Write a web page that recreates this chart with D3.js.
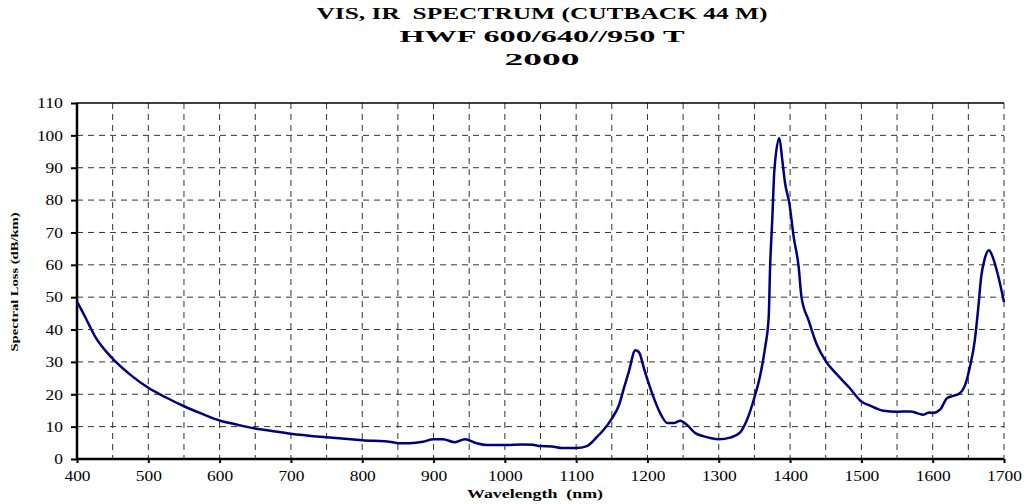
<!DOCTYPE html>
<html>
<head>
<meta charset="utf-8">
<script src="https://cdn.jsdelivr.net/npm/d3@7"></script>
<style>
  body { margin: 0; background: #fff; }
  svg { display: block; }
</style>
</head>
<body>
<svg id="chart" width="1024" height="504"></svg>
<script>
// wavelength (nm) and spectral loss (dB/km)
const wavelength = [400, 410, 425, 450, 475, 500, 525, 550, 575, 600, 625, 650, 675, 700, 750, 800, 843, 850, 866, 885, 900, 913, 930, 944, 960, 974, 1000, 1025, 1039, 1050, 1066, 1080, 1100, 1115, 1129, 1138, 1150, 1160, 1167, 1174, 1183, 1188, 1195, 1200, 1209, 1218, 1228, 1237, 1246, 1256, 1267, 1279, 1288, 1300, 1316, 1330, 1339, 1350, 1358, 1365, 1370, 1372, 1375, 1378, 1385, 1389, 1393, 1399, 1405, 1412, 1416, 1426, 1437, 1451, 1465, 1483, 1500, 1513, 1531, 1550, 1569, 1579, 1587, 1595, 1600, 1611, 1620, 1629, 1638, 1645, 1652, 1659, 1664, 1668, 1673, 1679, 1684, 1691, 1700];
const loss = [48.6, 44.5, 38, 31, 26, 22, 19, 16.3, 14, 11.9, 10.6, 9.4, 8.6, 7.8, 6.7, 5.8, 5.2, 4.9, 4.9, 5.3, 6.1, 6.1, 5.2, 6.1, 4.9, 4.3, 4.3, 4.5, 4.4, 4.0, 3.9, 3.4, 3.4, 4.0, 6.8, 8.9, 12.5, 16.6, 21.9, 27.1, 33.6, 33, 28.1, 24.5, 18.8, 14.1, 11.1, 11.1, 11.8, 10.4, 8, 7, 6.5, 6.1, 6.6, 8.2, 11.8, 19, 25.7, 34.5, 43.8, 59.4, 73.8, 89.3, 99.2, 92.5, 85.2, 79, 68.7, 59.4, 50, 42.8, 35.6, 29.9, 26.3, 22.1, 17.8, 16.4, 14.9, 14.6, 14.7, 14.1, 13.7, 14.4, 14.2, 15.4, 18.8, 19.5, 20.3, 22.6, 28.3, 36.6, 46.9, 56.3, 61.9, 64.5, 62.5, 57.3, 48.5];

const xTicks = d3.range(400, 1701, 100);
const xGrid = d3.range(450, 1701, 50);
const yTicks = d3.range(0, 111, 10);
const titleLines = ["VIS, IR  SPECTRUM (CUTBACK 44 M)", "HWF 600/640//950 T", "2000"];
const titleWidths = [451, 285, 75];

const svg = d3.select("#chart");
const margin = { top: 103, right: 20, bottom: 45, left: 77 };
const width = 1024 - margin.left - margin.right;
const height = 504 - margin.top - margin.bottom;

const x = d3.scaleLinear().domain([400, 1700]).range([0, width]);
const y = d3.scaleLinear().domain([0, 110]).range([height, 0]);

const serif = "'Liberation Serif', 'Times New Roman', serif";
const g = svg.append("g").attr("transform", `translate(${margin.left},${margin.top})`);

// title (the original is drawn a bit wide, so stretch each line)
svg.append("g").selectAll("text")
    .data(titleLines)
    .join("text")
    .attr("x", 542)
    .attr("y", (d, i) => 19 + i * 23)
    .attr("text-anchor", "middle")
    .attr("textLength", (d, i) => titleWidths[i])
    .attr("lengthAdjust", "spacingAndGlyphs")
    .style("font-family", serif)
    .style("font-weight", "bold")
    .style("font-size", "17px")
    .style("white-space", "pre")
    .text(d => d);

// grid
g.append("g").selectAll("line")
    .data(yTicks.filter(d => d > 0 && d < 110))
    .join("line")
    .attr("x1", 0).attr("x2", width)
    .attr("y1", d => y(d)).attr("y2", d => y(d))
    .attr("stroke", "#333").attr("stroke-width", 1)
    .attr("stroke-dasharray", "6,5");
g.append("g").selectAll("line")
    .data(xGrid)
    .join("line")
    .attr("x1", d => x(d)).attr("x2", d => x(d))
    .attr("y1", 0).attr("y2", height)
    .attr("stroke", "#333").attr("stroke-width", 1)
    .attr("stroke-dasharray", "6,5");

// top border
g.append("line")
    .attr("x1", 0).attr("x2", width)
    .attr("y1", 0).attr("y2", 0)
    .attr("stroke", "#000").attr("stroke-width", 1.5);

// axes
const yAxis = g.append("g")
    .call(d3.axisLeft(y).tickValues(yTicks).tickSize(6).tickPadding(8).tickFormat(d3.format("d")));
const xAxis = g.append("g")
    .attr("transform", `translate(0,${height})`)
    .call(d3.axisBottom(x).tickValues(xTicks).tickSize(4).tickPadding(7).tickFormat(d3.format("d")));

[yAxis, xAxis].forEach(a => {
    a.select(".domain").attr("stroke", "#000").attr("stroke-width", 2.5);
    a.selectAll(".tick line").attr("stroke", "#000").attr("stroke-width", 2);
    a.selectAll("text")
        .style("font-family", serif)
        .style("font-size", "15px")
        .attr("fill", "#000")
        .attr("textLength", function () { return this.textContent.length * 8.7; })
        .attr("lengthAdjust", "spacingAndGlyphs");
});
yAxis.select(".domain").attr("d", `M0,${height}V0`);
xAxis.select(".domain").attr("d", `M0,0H${width}`);

// the curve
g.append("path")
    .datum(wavelength.map((w, i) => [w, loss[i]]))
    .attr("fill", "none")
    .attr("stroke", "#000080")
    .attr("stroke-width", 2.5)
    .attr("stroke-linejoin", "round")
    .attr("d", d3.line().x(d => x(d[0])).y(d => y(d[1])).curve(d3.curveMonotoneX));

// axis labels
svg.append("text")
    .attr("x", 535).attr("y", 498)
    .attr("text-anchor", "middle")
    .attr("textLength", 136)
    .attr("lengthAdjust", "spacingAndGlyphs")
    .style("font-family", serif)
    .style("font-weight", "bold")
    .style("font-size", "13px")
    .style("white-space", "pre")
    .text("Wavelength  (nm)");

svg.append("text")
    .attr("transform", `translate(18,${margin.top + height / 2 + 1}) rotate(-90)`)
    .attr("text-anchor", "middle")
    .attr("textLength", 139)
    .attr("lengthAdjust", "spacingAndGlyphs")
    .style("font-family", serif)
    .style("font-weight", "bold")
    .style("font-size", "11px")
    .text("Spectral Loss (dB/km)");
</script>
</body>
</html>
